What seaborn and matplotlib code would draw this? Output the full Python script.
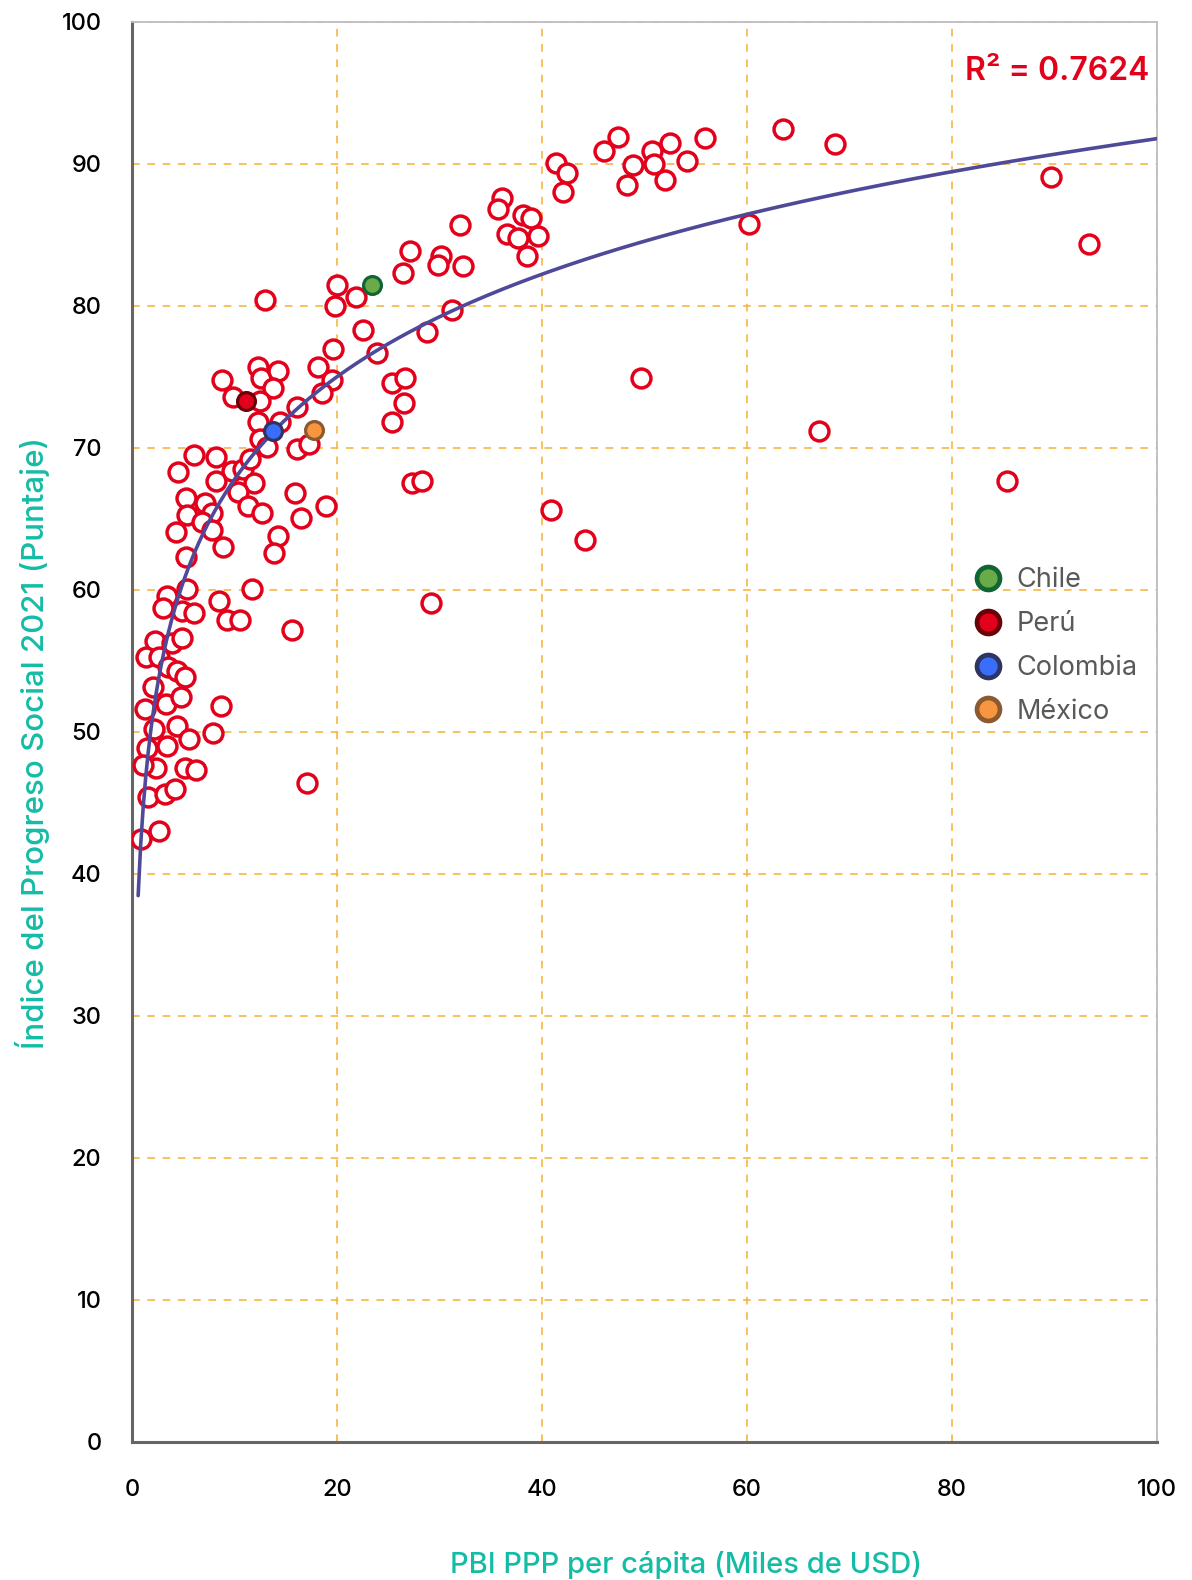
import matplotlib
matplotlib.use("Agg")
import matplotlib.pyplot as plt
from matplotlib.lines import Line2D
import numpy as np
import pandas as pd
import seaborn as sns

# PBI PPP per capita (miles de USD) and IPS 2021 score, one entry per country
gdp = [36.1, 35.7, 38.1, 38.9, 36.6, 37.7, 39.6, 38.5, 41.4, 42.4, 42.0, 47.4,
       46.0, 48.9, 48.3, 50.7, 50.9, 52.5, 52.0, 54.1, 55.9, 63.5, 68.6, 89.7,
       93.4, 60.2, 32.0, 49.7, 67.0, 85.4, 40.9, 44.2, 27.1, 30.1, 29.9, 32.3,
       26.4, 31.2, 28.8, 27.3, 28.3, 29.2, 17.1, 20.0, 21.9, 19.8, 13.0, 22.5,
       19.6, 23.9, 18.1, 19.5, 18.5, 16.1, 25.4, 26.6, 26.5, 25.4, 8.8, 9.9,
       12.3, 12.6, 14.2, 13.8, 12.5, 12.3, 14.4, 12.5, 13.2, 16.1, 17.3, 6.0,
       8.2, 4.5, 9.8, 10.8, 11.5, 8.2, 11.9, 5.3, 7.1, 7.8, 5.4, 6.8,
       4.3, 7.8, 8.9, 5.3, 10.3, 11.3, 12.7, 14.2, 13.9, 15.9, 16.5, 18.9,
       5.4, 3.4, 3.0, 4.9, 6.0, 8.5, 11.7, 9.3, 10.5, 15.6, 2.2, 3.9,
       4.9, 1.4, 2.6, 3.5, 4.4, 5.2, 2.0, 3.3, 4.8, 1.3, 8.7, 2.1,
       4.4, 5.6, 7.9, 1.5, 3.4, 2.3, 1.1, 5.2, 6.2, 1.6, 3.2, 4.2,
       2.6, 0.9]
ips = [87.6, 86.8, 86.4, 86.2, 85.1, 84.8, 84.9, 83.5, 90.1, 89.4, 88.0, 91.9,
       90.9, 89.9, 88.5, 90.9, 90.0, 91.5, 88.9, 90.2, 91.8, 92.5, 91.4, 89.1,
       84.4, 85.8, 85.7, 74.9, 71.2, 67.7, 65.6, 63.5, 83.9, 83.5, 82.9, 82.8,
       82.3, 79.7, 78.2, 67.5, 67.7, 59.1, 46.4, 81.5, 80.6, 80.0, 80.4, 78.3,
       77.0, 76.7, 75.7, 74.8, 73.9, 72.9, 74.6, 74.9, 73.2, 71.8, 74.8, 73.6,
       75.7, 74.9, 75.4, 74.2, 73.3, 71.8, 71.8, 70.6, 70.1, 69.9, 70.3, 69.5,
       69.4, 68.3, 68.4, 68.5, 69.2, 67.7, 67.5, 66.5, 66.1, 65.4, 65.3, 64.8,
       64.1, 64.2, 63.0, 62.3, 66.9, 65.9, 65.4, 63.8, 62.6, 66.8, 65.1, 65.9,
       60.1, 59.6, 58.7, 58.5, 58.4, 59.2, 60.1, 57.9, 57.9, 57.2, 56.4, 56.3,
       56.6, 55.3, 55.3, 54.6, 54.3, 53.9, 53.2, 52.0, 52.5, 51.6, 51.8, 50.2,
       50.4, 49.5, 49.9, 48.9, 49.0, 47.5, 47.7, 47.5, 47.3, 45.4, 45.6, 46.0,
       43.0, 42.5]

countries = ["Chile", "Perú", "Colombia", "México"]
country_gdp = [23.4, 11.1, 13.8, 17.8]
country_ips = [81.5, 73.3, 71.2, 71.3]
country_fill = ["#6aaa48", "#e3001b", "#3a6dfa", "#f7963f"]
country_edge = ["#0f6634", "#6a0008", "#2e3563", "#8b5a30"]

# logarithmic trend line y = a*ln(x) + b
trend_a = 10.42
trend_b = 43.8
trend_start = 0.6
r2_text = "R\u00b2 = 0.7624"

teal = "#14bca6"
red = "#e3001b"

sns.set_style("white")
plt.rcParams["font.family"] = ["Inter", "DejaVu Sans"]

fig = plt.figure(figsize=(11.92, 15.8), dpi=100)
ax = fig.add_axes([132 / 1192, 1 - 1442 / 1580, 1025 / 1192, 1420 / 1580])

df = pd.DataFrame({"gdp": gdp, "ips": ips})
sns.scatterplot(data=df, x="gdp", y="ips", ax=ax, s=185, marker="o",
                facecolor="white", edgecolor=red, linewidth=2.5, zorder=3,
                legend=False)

xs = np.linspace(trend_start, 100, 400)
sns.lineplot(x=xs, y=trend_a * np.log(xs) + trend_b, ax=ax, color="#4e4a99",
             linewidth=2.6, zorder=4)

handles = []
for name, cx, cy, fc, ec in zip(countries, country_gdp, country_ips,
                                country_fill, country_edge):
    sns.scatterplot(x=[cx], y=[cy], ax=ax, s=165, color=fc, edgecolor=ec,
                    linewidth=2.3, zorder=5)
    handles.append(Line2D([], [], linestyle="", marker="o", markersize=16.5,
                          markerfacecolor=fc, markeredgecolor=ec,
                          markeredgewidth=3.4, label=name))

ax.set_xlim(0, 100)
ax.set_ylim(0, 100)
ax.set_xticks(range(0, 101, 20))
ax.set_yticks(range(0, 101, 10))
ax.grid(True, color="#f7b035", linestyle=(0, (5, 5)), linewidth=1.1)
ax.set_axisbelow(True)
ax.tick_params(axis="both", length=0, labelsize=17, colors="black")
ax.tick_params(axis="x", pad=27)
ax.tick_params(axis="y", pad=22)
for lab in ax.get_xticklabels() + ax.get_yticklabels():
    lab.set_fontweight("medium")

for side in ["left", "bottom"]:
    ax.spines[side].set_color("#666666")
    ax.spines[side].set_linewidth(2.2)
for side in ["top", "right"]:
    ax.spines[side].set_color("#bdbdbd")
    ax.spines[side].set_linewidth(1.3)

ax.set_xlabel("PBI PPP per cápita (Miles de USD)", color=teal, fontsize=21,
              fontweight="medium", va="center")
ax.set_ylabel("Índice del Progreso Social 2021 (Puntaje)", color=teal,
              fontsize=22.5, fontweight="medium", va="center")
ax.xaxis.set_label_coords(0.540, -0.0866)
ax.yaxis.set_label_coords(-0.097, 0.492)

ax.text(0.992, 0.965, r2_text, transform=ax.transAxes, ha="right",
        va="center", color=red, fontsize=23, fontweight="semibold")

leg = ax.legend(handles=handles, loc="upper left",
                bbox_to_anchor=(0.819, 0.616), frameon=False, fontsize=19.5,
                handletextpad=0.45, labelspacing=0.66, borderaxespad=0,
                borderpad=0, handlelength=1.2)
for t in leg.get_texts():
    t.set_color("#595959")

fig.savefig("out.png", dpi=100)
